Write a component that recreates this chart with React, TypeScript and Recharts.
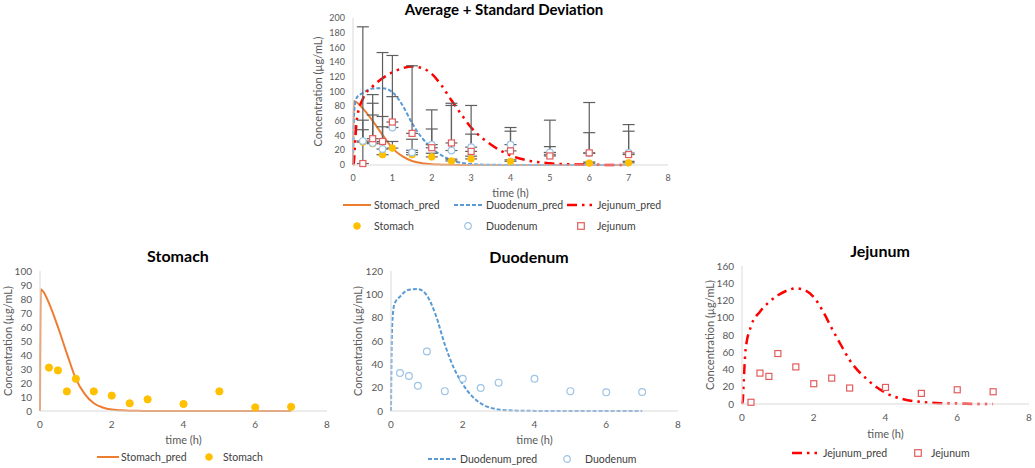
import React from 'react';
import { ComposedChart, Line, Scatter, XAxis, YAxis, ErrorBar, Legend } from 'recharts';

const FONT = 'Lato, "Open Sans", sans-serif';

// observed sampling times (h) and mean concentrations (µg/mL)
const obsTimes = [0.25, 0.5, 0.75, 1, 1.5, 2, 2.5, 3, 4, 5, 6, 7];
const stomachObs = [31, 29, 14, 23, 14, 11, 5.5, 8.3, 5, 14, 2.6, 3];
const duodenumObs = [32.6, 30, 21.7, 51, 17, 27.7, 19.7, 24.3, 27.7, 17, 16, 16.3];
const jejunumObs = [2, 35.8, 32, 58.5, 43, 23.5, 30, 18.5, 19.2, 12.3, 16.5, 14.2];

// + standard deviation
const stomachSd = [17, 39, 38, 9, 6, 5, 2.5, 3.7, 2, 3, 1.4, 2];
const duodenumSd = [28.4, 54, 44.3, 42, 18, 21.3, 61.3, 17.7, 18.3, 8, 28, 29.7];
const jejunumSd = [186, 60, 121, 90.5, 92, 51.5, 54, 62.5, 31.8, 48.7, 68.5, 40.8];

// model predictions
const predTimes = [0, 0.02, 0.05, 0.1, 0.25, 0.5, 0.75, 1, 1.25, 1.5, 1.75, 2, 2.25, 2.5, 2.75, 3, 3.5, 4, 4.5, 5, 5.5, 6, 6.5, 7];
const stomachPred = [0, 87, 86.5, 85, 77, 60, 41, 23, 12, 5.5, 2.5, 1, 0.5, 0.2, 0.1, 0, 0, 0, 0, 0, 0, 0, 0, 0];
const duodenumPred = [0, 60, 82, 92, 98, 104, 104.5, 99, 82, 57, 37, 23, 13, 6.5, 3, 1.3, 0.3, 0.1, 0, 0, 0, 0, 0, 0];
const jejunumPred = [0, 3, 28, 63, 90, 107, 118, 126, 131.5, 134, 132, 124, 108, 88, 69, 51, 28, 13, 5.5, 2.3, 1, 0.4, 0.1, 0];

const topXTicks = [0, 1, 2, 3, 4, 5, 6, 7, 8];
const lowXTicks = [0, 2, 4, 6, 8];
const topYTicks = [0, 20, 40, 60, 80, 100, 120, 140, 160, 180, 200];
const stomachYTicks = [0, 10, 20, 30, 40, 50, 60, 70, 80, 90, 100];
const duodenumYTicks = [0, 20, 40, 60, 80, 100, 120];
const jejunumYTicks = [0, 20, 40, 60, 80, 100, 120, 140, 160];

const ORANGE = '#ED7D31';
const GOLD = '#FFC000';
const BLUE = '#5B9BD5';
const LIGHTBLUE = '#9DC3E6';
const RED = '#FF0000';
const PINK = '#E25D5D';
const TICK = '#595959';
const AXIS = '#D9D9D9';

const predRows = (vals: number[]) => predTimes.map((t, i) => ({ t, v: vals[i] }));
const obsRows = (vals: number[], sd?: number[]) =>
  obsTimes.map((t, i) => ({ t, v: vals[i], err: [0, sd ? sd[i] : 0] }));

type Kind = 'line' | 'dot' | 'ring' | 'square';

const markerShape = (kind: Kind, color: string, r: number) => (props: any) => {
  const { cx, cy } = props;
  if (kind === 'dot') return <circle cx={cx} cy={cy} r={r} fill={color} stroke={color} />;
  if (kind === 'ring') return <circle cx={cx} cy={cy} r={r} fill="#fff" stroke={color} strokeWidth={1.2} />;
  return <rect x={cx - r} y={cy - r} width={r * 2} height={r * 2} fill="#fff" stroke={color} strokeWidth={1.2} />;
};

type LegendItem = {
  label: string;
  kind: Kind;
  color: string;
  dash?: string;
  sw?: number;
  iconX: number;
  iconW: number;
  textX: number;
  y: number;
};

function LegendBox({ items, width, height }: { items: LegendItem[]; width: number; height: number }) {
  return (
    <div style={{ position: 'relative', width, height, fontFamily: FONT, fontSize: 10.5, color: '#404040' }}>
      {items.map((it) => (
        <React.Fragment key={it.label}>
          <svg style={{ position: 'absolute', left: it.iconX, top: it.y - 5 }} width={it.iconW} height={10}>
            {it.kind === 'line' ? (
              <line x1={0} y1={5} x2={it.iconW} y2={5} stroke={it.color} strokeWidth={it.sw ?? 2} strokeDasharray={it.dash} />
            ) : (
              markerShape(it.kind, it.color, 3.3)({ cx: it.iconW / 2, cy: 5 })
            )}
          </svg>
          <span style={{ position: 'absolute', left: it.textX, top: it.y - 7, lineHeight: '14px', whiteSpace: 'nowrap' }}>
            {it.label}
          </span>
        </React.Fragment>
      ))}
    </div>
  );
}

type LineCfg = { name: string; data: { t: number; v: number }[]; color: string; dash?: string; sw: number };
type ObsCfg = { name: string; data: { t: number; v: number; err: number[] }[]; kind: Kind; color: string; r: number; bars?: boolean };

type PanelProps = {
  left: number;
  top: number;
  width: number;
  height: number;
  title: string;
  titleX: number;
  titleY: number;
  titleSize: number;
  plotTop: number;
  plotLeft: number;
  right: number;
  yLabelX: number;
  xHeight: number;
  timeOffset: number;
  tickSize: number;
  xTicks: number[];
  yTicks: number[];
  lines: LineCfg[];
  obs: ObsCfg[];
  legend: LegendItem[];
  legendH: number;
  legendBottom: number;
};

function Panel(p: PanelProps) {
  const yMax = p.yTicks[p.yTicks.length - 1];
  return (
    <div style={{ position: 'absolute', left: p.left, top: p.top, width: p.width, height: p.height }}>
      <div
        style={{
          position: 'absolute',
          left: p.titleX - 150,
          top: p.titleY - 10,
          width: 300,
          lineHeight: '20px',
          textAlign: 'center',
          fontFamily: FONT,
          fontWeight: 700,
          fontSize: p.titleSize,
          color: '#000',
          zIndex: 2,
        }}
      >
        {p.title}
      </div>
      <ComposedChart
        width={p.width}
        height={p.height}
        margin={{ top: p.plotTop, right: p.right, left: 0, bottom: p.legendBottom }}
        style={{ fontFamily: FONT }}
      >
        <XAxis
          dataKey="t"
          type="number"
          domain={[0, 8]}
          ticks={p.xTicks}
          interval={0}
          height={p.xHeight}
          tickLine={false}
          tickMargin={4}
          axisLine={{ stroke: AXIS }}
          tick={{ fill: TICK, fontSize: p.tickSize, fontFamily: FONT }}
          label={{ value: 'time (h)', position: 'insideBottom', offset: p.timeOffset, fill: TICK, fontSize: 11, fontFamily: FONT }}
        />
        <YAxis
          type="number"
          domain={[0, yMax]}
          ticks={p.yTicks}
          interval={0}
          width={p.plotLeft}
          tickLine={false}
          axisLine={{ stroke: AXIS }}
          tick={{ fill: TICK, fontSize: p.tickSize, fontFamily: FONT }}
          label={{
            value: 'Concentration (µg/mL)',
            angle: -90,
            position: 'insideLeft',
            offset: p.yLabelX,
            fill: TICK,
            fontSize: 11,
            fontFamily: FONT,
            style: { textAnchor: 'middle' },
          }}
        />
        {p.lines.map((l) => (
          <Line
            key={l.name}
            name={l.name}
            data={l.data}
            dataKey="v"
            type="monotone"
            stroke={l.color}
            strokeWidth={l.sw}
            strokeDasharray={l.dash}
            dot={false}
            activeDot={false}
            isAnimationActive={false}
          />
        ))}
        {p.obs.map((o) => (
          <Scatter
            key={o.name}
            name={o.name}
            data={o.data}
            dataKey="v"
            shape={markerShape(o.kind, o.color, o.r)}
            isAnimationActive={false}
          >
            {o.bars ? <ErrorBar dataKey="err" direction="y" width={6} stroke="#5f5f5f" strokeWidth={1.2} /> : null}
          </Scatter>
        ))}
        <Legend
          verticalAlign="bottom"
          wrapperStyle={{ left: 0, bottom: p.legendBottom, width: p.width, height: p.legendH }}
          content={() => <LegendBox items={p.legend} width={p.width} height={p.legendH} />}
        />
      </ComposedChart>
    </div>
  );
}

const JEJ_DASH = '10 5 2.5 5 2.5 5';
const DUO_DASH = '4 2';

export default function App() {
  const stomachLine: LineCfg = { name: 'Stomach_pred', data: predRows(stomachPred), color: ORANGE, sw: 2 };
  const duodenumLine: LineCfg = { name: 'Duodenum_pred', data: predRows(duodenumPred), color: BLUE, dash: DUO_DASH, sw: 2 };
  const jejunumLine: LineCfg = { name: 'Jejunum_pred', data: predRows(jejunumPred), color: RED, dash: JEJ_DASH, sw: 2.5 };

  return (
    <div style={{ position: 'absolute', left: 0, top: 0, width: 1035, height: 468, background: '#fff', fontFamily: FONT }}>
      <Panel
        left={290}
        top={0}
        width={400}
        height={240}
        title="Average + Standard Deviation"
        titleX={214}
        titleY={9}
        titleSize={15}
        plotTop={18}
        plotLeft={63}
        right={22}
        yLabelX={28}
        xHeight={30}
        timeOffset={-2}
        tickSize={9}
        xTicks={topXTicks}
        yTicks={topYTicks}
        lines={[stomachLine, duodenumLine, jejunumLine]}
        obs={[
          { name: 'Stomach', data: obsRows(stomachObs, stomachSd), kind: 'dot', color: GOLD, r: 3.3, bars: true },
          { name: 'Duodenum', data: obsRows(duodenumObs, duodenumSd), kind: 'ring', color: LIGHTBLUE, r: 3.3, bars: true },
          { name: 'Jejunum', data: obsRows(jejunumObs, jejunumSd), kind: 'square', color: PINK, r: 3, bars: true },
        ]}
        legend={[
          { label: 'Stomach_pred', kind: 'line', color: ORANGE, iconX: 53, iconW: 28, textX: 84, y: 10 },
          { label: 'Duodenum_pred', kind: 'line', color: BLUE, dash: DUO_DASH, iconX: 164, iconW: 28, textX: 196, y: 10 },
          { label: 'Jejunum_pred', kind: 'line', color: RED, dash: JEJ_DASH, sw: 2.5, iconX: 277, iconW: 27, textX: 307, y: 10 },
          { label: 'Stomach', kind: 'dot', color: GOLD, iconX: 62, iconW: 10, textX: 84, y: 31 },
          { label: 'Duodenum', kind: 'ring', color: LIGHTBLUE, iconX: 173, iconW: 10, textX: 196, y: 31 },
          { label: 'Jejunum', kind: 'square', color: PINK, iconX: 286, iconW: 10, textX: 307, y: 31 },
        ]}
        legendH={42}
        legendBottom={3}
      />
      <Panel
        left={0}
        top={240}
        width={340}
        height={228}
        title="Stomach"
        titleX={178}
        titleY={16}
        titleSize={16}
        plotTop={31}
        plotLeft={40}
        right={13}
        yLabelX={8}
        xHeight={37}
        timeOffset={4}
        tickSize={10}
        xTicks={lowXTicks}
        yTicks={stomachYTicks}
        lines={[stomachLine]}
        obs={[{ name: 'Stomach', data: obsRows(stomachObs), kind: 'dot', color: GOLD, r: 3.6 }]}
        legend={[
          { label: 'Stomach_pred', kind: 'line', color: ORANGE, iconX: 97, iconW: 22, textX: 121, y: 9 },
          { label: 'Stomach', kind: 'dot', color: GOLD, iconX: 204, iconW: 10, textX: 223, y: 9 },
        ]}
        legendH={18}
        legendBottom={2}
      />
      <Panel
        left={340}
        top={240}
        width={350}
        height={228}
        title="Duodenum"
        titleX={189}
        titleY={17}
        titleSize={16}
        plotTop={31}
        plotLeft={51}
        right={12}
        yLabelX={18}
        xHeight={39}
        timeOffset={6}
        tickSize={10}
        xTicks={lowXTicks}
        yTicks={duodenumYTicks}
        lines={[duodenumLine]}
        obs={[{ name: 'Duodenum', data: obsRows(duodenumObs), kind: 'ring', color: LIGHTBLUE, r: 3.4 }]}
        legend={[
          { label: 'Duodenum_pred', kind: 'line', color: BLUE, dash: DUO_DASH, iconX: 88, iconW: 30, textX: 120, y: 9 },
          { label: 'Duodenum', kind: 'ring', color: LIGHTBLUE, iconX: 222, iconW: 10, textX: 245, y: 9 },
        ]}
        legendH={18}
        legendBottom={0}
      />
      <Panel
        left={690}
        top={240}
        width={345}
        height={228}
        title="Jejunum"
        titleX={190}
        titleY={11}
        titleSize={16}
        plotTop={26}
        plotLeft={52}
        right={6}
        yLabelX={20}
        xHeight={40}
        timeOffset={6}
        tickSize={10}
        xTicks={lowXTicks}
        yTicks={jejunumYTicks}
        lines={[jejunumLine]}
        obs={[{ name: 'Jejunum', data: obsRows(jejunumObs), kind: 'square', color: PINK, r: 3 }]}
        legend={[
          { label: 'Jejunum_pred', kind: 'line', color: RED, dash: JEJ_DASH, sw: 2.5, iconX: 102, iconW: 29, textX: 133, y: 9 },
          { label: 'Jejunum', kind: 'square', color: PINK, iconX: 223, iconW: 10, textX: 241, y: 9 },
        ]}
        legendH={18}
        legendBottom={6}
      />
    </div>
  );
}
